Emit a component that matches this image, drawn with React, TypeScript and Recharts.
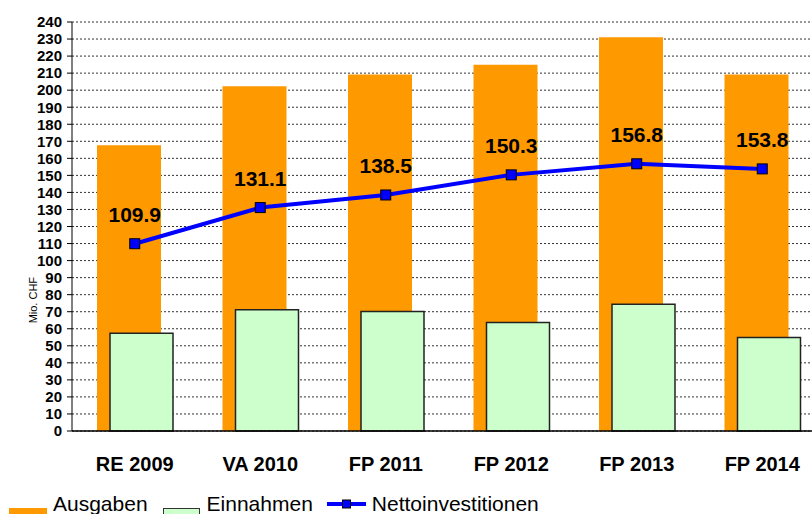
import { Bar, CartesianGrid, ComposedChart, LabelList, Line, XAxis, YAxis } from 'recharts'

const categories = ['RE 2009', 'VA 2010', 'FP 2011', 'FP 2012', 'FP 2013', 'FP 2014']
const ausgaben = [167.7, 202.3, 209.2, 214.9, 231.1, 209.2]
const einnahmen = [57.4, 71.1, 70.1, 63.6, 74.4, 54.8]
const netto = [109.9, 131.1, 138.5, 150.3, 156.8, 153.8]
const yTicks = [0, 10, 20, 30, 40, 50, 60, 70, 80, 90, 100, 110, 120, 130, 140, 150, 160, 170, 180, 190, 200, 210, 220, 230, 240]

const FONT = "Arial, 'Liberation Sans', sans-serif"
const ORANGE = '#ff9900'
const GREEN = '#ccffcc'
const BLUE = '#0000ff'

const data = categories.map((name, i) => ({
  name,
  ausgaben: ausgaben[i],
  einnahmen: einnahmen[i],
  netto: netto[i],
}))

function SquareDot(props: any) {
  const { cx, cy } = props
  if (cx == null || cy == null) return null
  return <rect x={cx - 5} y={cy - 5} width={10} height={10} fill={BLUE} stroke="#000" strokeWidth={1} />
}

function UnitLabel(props: any) {
  const vb = props.viewBox || {}
  const x = 33
  const y = (vb.y ?? 22) + (vb.height ?? 409) * 0.68
  return (
    <text
      x={x}
      y={y}
      transform={`rotate(-90, ${x}, ${y})`}
      textAnchor="middle"
      dominantBaseline="central"
      fontSize={11}
      fontFamily={FONT}
      fill="#000"
    >
      Mio. CHF
    </text>
  )
}

export default function App() {
  return (
    <div
      style={{
        position: 'fixed',
        left: 0,
        top: 0,
        width: 812,
        height: 514,
        overflow: 'hidden',
        background: '#fff',
      }}
    >
      <style>{'html, body { margin: 0; overflow: hidden; }'}</style>
      <div style={{ position: 'absolute', left: 0, top: 0 }}>
        <ComposedChart
          width={831}
          height={514}
          data={data}
          margin={{ top: 22, right: 6, left: 0, bottom: 43 }}
          barGap={-51}
        >
          <CartesianGrid vertical={false} stroke="#333" strokeDasharray="2 2" />
          <XAxis
            dataKey="name"
            tickLine={false}
            tickMargin={20}
            height={40}
            stroke="#000"
            strokeWidth={1.5}
            tick={{ fill: '#000', fontSize: 20, fontWeight: 'bold', fontFamily: FONT }}
          />
          <YAxis
            width={72}
            domain={[0, 240]}
            ticks={yTicks}
            interval={0}
            tickSize={5}
            tickMargin={5}
            stroke="#000"
            tick={{ fill: '#000', fontSize: 15, fontWeight: 'bold', fontFamily: FONT }}
            label={{ content: UnitLabel }}
          />
          <Bar dataKey="ausgaben" fill={ORANGE} barSize={64} isAnimationActive={false} />
          <Bar
            dataKey="einnahmen"
            fill={GREEN}
            stroke="#222"
            strokeWidth={1.5}
            barSize={63}
            isAnimationActive={false}
          />
          <Line
            dataKey="netto"
            type="linear"
            stroke={BLUE}
            strokeWidth={4}
            dot={<SquareDot />}
            activeDot={false}
            isAnimationActive={false}
          >
            <LabelList
              dataKey="netto"
              position="top"
              offset={22}
              fill="#000"
              fontSize={21}
              fontWeight="bold"
              fontFamily={FONT}
              formatter={(v: any) => Number(v).toFixed(1)}
            />
          </Line>
        </ComposedChart>
      </div>

      <div
        style={{
          position: 'absolute',
          left: 9,
          top: 492,
          display: 'flex',
          alignItems: 'flex-start',
          fontFamily: FONT,
          fontSize: 21,
          lineHeight: '24px',
          color: '#000',
          whiteSpace: 'nowrap',
        }}
      >
        <div style={{ width: 38, height: 11, marginTop: 16, background: ORANGE }} />
        <span style={{ marginLeft: 6 }}>Ausgaben</span>
        <div
          style={{
            width: 37,
            height: 11,
            marginTop: 16,
            marginLeft: 15,
            background: GREEN,
            border: '1.5px solid #333',
            boxSizing: 'border-box',
          }}
        />
        <span style={{ marginLeft: 7 }}>Einnahmen</span>
        <svg width={39} height={24} style={{ marginLeft: 14 }}>
          <line x1={0} y1={12} x2={39} y2={12} stroke={BLUE} strokeWidth={4} />
          <rect x={15.5} y={8} width={8} height={8} fill={BLUE} stroke="#000" strokeWidth={1} />
        </svg>
        <span style={{ marginLeft: 6 }}>Nettoinvestitionen</span>
      </div>
    </div>
  )
}
